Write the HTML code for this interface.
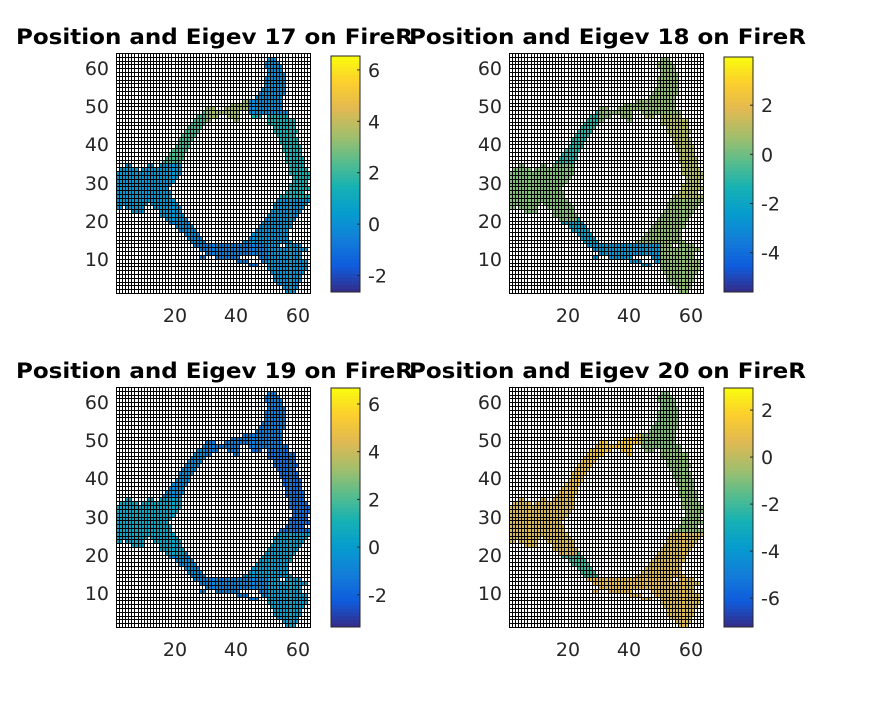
<!DOCTYPE html>
<html><head><meta charset="utf-8"><style>
body{margin:0;background:#fff;width:891px;height:703px;overflow:hidden}
svg text{font-family:"DejaVu Sans","Liberation Sans",sans-serif}
</style></head><body>
<svg id="fig" width="891" height="703" xmlns="http://www.w3.org/2000/svg"></svg>
<script>
// Occupied cells: [y, x0, x1, ...pairs] (data coords)
const maskRows = [
[62,50,52],[61,49,53],[60,49,54],[59,50,54],[58,50,55],[57,49,55],[56,49,55],[55,49,55],[54,48,55],[53,47,55],
[52,46,54],[51,42,54],[50,38,54],[49,30,32,36,54],[48,29,40,44,56],[47,27,33,37,40,45,47,50,56],[46,26,31,39,40,50,58],
[45,25,29,50,58],[44,24,28,52,58],[43,23,27,52,59],[42,22,26,53,58],[41,21,25,54,59],[40,21,24,54,59],[39,20,24,55,60],
[38,19,23,55,60],[37,18,22,56,60],[36,17,22,56,61],[35,16,21,56,61],[34,4,5,11,12,15,21,57,61],[33,2,7,9,21,57,62],
[32,1,21,57,63],[31,1,20,58,63],[30,1,19,58,62],[29,1,18,57,62],[28,1,17,57,63],[27,1,18,56,61],[26,1,18,54,63],
[25,1,19,53,63],[24,1,10,12,20,52,62],[23,1,2,4,9,13,21,52,61],[22,6,9,15,21,51,60],[21,15,22,50,59],[20,17,23,49,58],
[19,18,24,48,57],[18,20,25,47,57],[17,21,26,46,56],[16,23,27,45,56],[15,24,28,44,56],[14,25,29,42,57],[13,26,53,56,60],
[12,28,62],[11,30,60],[10,28,29,33,40,47,60],[9,40,43,48,62],[8,44,46,50,62],[7,50,62],[6,51,61],[5,52,60],[4,52,60],
[3,53,59],[2,55,59],[1,56,58]
];
// region values per panel: [topArm, bridge, upperLeft, leftBlob, lowerLeft, bottom, rightUpper, rightLower]
const vals17 = [0.0, 3.5, 2.2, 0.3, 0.0, -0.5, 1.5, 0.2];
const vals18 = [0.5, 0.5, -1.0, 0.3, -2.0, -2.5, 1.0, 0.5];
const vals19 = [-1.0, -1.0, -0.5, 0.5, -0.5, -0.8, -1.5, 0.2];
const vals20 = [-1.0, 1.5, 1.0, 0.5, -2.0, 0.8, -0.8, 0.5];
const titles = ["Position and Eigev 17 on FireR","Position and Eigev 18 on FireR","Position and Eigev 19 on FireR","Position and Eigev 20 on FireR"];
const clims = [[-2.64,6.54],[-5.6,3.96],[-3.35,6.67],[-7.23,2.94]];
const cbTicks = [[-2,0,2,4,6],[-4,-2,0,2],[-2,0,2,4,6],[-6,-4,-2,0,2]];
const axTicks = [10,20,30,40,50,60];
const xTicks = [20,40,60];

const NS="http://www.w3.org/2000/svg";
const svg=document.getElementById('fig');
function mk(t,a,p){const e=document.createElementNS(NS,t);for(const k in a)e.setAttribute(k,a[k]);(p||svg).appendChild(e);return e;}
const parula=[[53,42,135],[15,92,221],[18,125,216],[7,156,207],[21,177,180],[89,189,140],[165,190,107],[225,185,82],[252,206,46],[249,251,14]];
function cmap(t){t=Math.max(0,Math.min(1,t));const s=t*(parula.length-1),i=Math.min(parula.length-2,Math.floor(s)),f=s-i;
const a=parula[i],b=parula[i+1];return `rgb(${a.map((v,k)=>Math.round(v+(b[k]-v)*f)).join(',')})`;}
function region(x,y){
 if(y>=48&&x>=44)return 0;
 if(y>=46&&x>=30&&x<44)return 1;
 if(y>=35&&x<35)return 2;
 if(y>=20&&x<=22)return 3;
 if(y>=14&&x<30)return 4;
 if(y<=13&&x<50)return 5;
 if(x>=44&&y>=26)return 6;
 return 7;
}
const panels=[{ax:116,ay:53,cx:331,cy:56,cb:292,v:vals17},{ax:509,ay:53,cx:724,cy:57,cb:292,v:vals18},
{ax:116,ay:387,cx:331,cy:388,cb:627,v:vals19},{ax:509,ay:387,cx:724,cy:388,cb:627,v:vals20}];
panels.forEach((P,pi)=>{
 const W=194,H=240;
 const g=mk('g',{});
 
 
 const sx=v=>Math.round(P.ax+(v-1)/63*W), sy=v=>Math.round(P.ay+H-(v-1)/63*H);
 mk('rect',{x:P.ax,y:P.ay,width:W,height:H,fill:'#fff'},g);
 const [lo,hi]=clims[pi];
 maskRows.forEach(r=>{const y=r[0];for(let k=1;k<r.length;k+=2){for(let x=r[k];x<=Math.min(63,r[k+1]);x++){
  const val=P.v[region(x,y)];
  const c=mk('rect',{x:sx(x),y:sy(y+1),width:sx(x+1)-sx(x),height:sy(y)-sy(y+1),fill:cmap((val-lo)/(hi-lo)),'shape-rendering':'crispEdges'},g);
  
  
 }}});
 let d='';
 for(let i=1;i<=64;i++){const X=sx(i)+0.5,Y=sy(i)+0.5;d+=`M${X} ${P.ay}V${P.ay+H+1}M${P.ax} ${Y}H${P.ax+W+1}`;}
 const grid=mk('path',{d:d,stroke:'#000','stroke-width':1,fill:'none','shape-rendering':'crispEdges'},g);
 
 
 axTicks.forEach(t=>{const tx=mk('text',{x:P.ax-7,y:sy(t)+7,'text-anchor':'end','font-size':19,fill:'#262626'},g);tx.textContent=t;
  });
 xTicks.forEach(t=>{const tx=mk('text',{x:sx(t),y:P.ay+H+29,'text-anchor':'middle','font-size':19,fill:'#262626'},g);tx.textContent=t;
  });
 const ti=mk('text',{x:P.ax-100,y:P.ay-9,'font-size':21,'font-weight':'bold',fill:'#000',textLength:397,lengthAdjust:'spacingAndGlyphs'},g);
 ti.textContent=titles[pi];
 
 // colorbar
 const cw=29,ch=P.cb-P.cy;
 for(let i=0;i<64;i++){mk('rect',{x:P.cx,y:P.cy+ch-(i+1)*ch/64,width:cw,height:ch/64+0.5,fill:cmap((i+0.5)/64)},g);}
 const cbf=mk('rect',{x:P.cx,y:P.cy,width:cw,height:ch,fill:'none',stroke:'#262626','stroke-width':1},g);
 
 cbTicks[pi].forEach(t=>{const Y=P.cb-(t-lo)/(hi-lo)*ch;
  mk('line',{x1:P.cx+cw-3,x2:P.cx+cw,y1:Y,y2:Y,stroke:'#262626'},g);
  const tx=mk('text',{x:P.cx+cw+8,y:Y+7,'font-size':19,fill:'#262626'},g);tx.textContent=t;
  });
});
</script>
</body></html>
